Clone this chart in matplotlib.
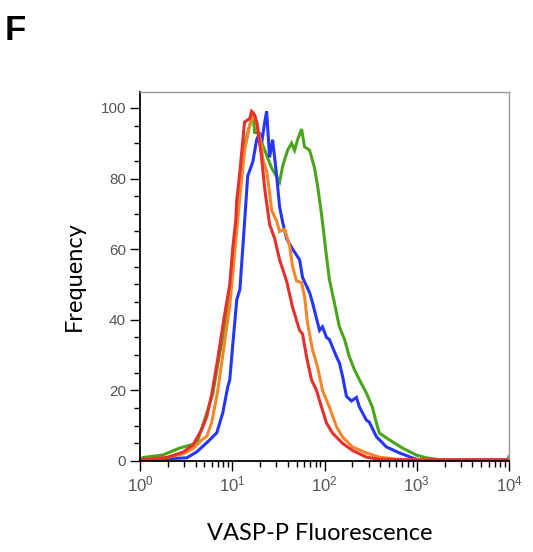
import matplotlib
matplotlib.use("Agg")
import matplotlib.pyplot as plt
from matplotlib.ticker import FixedLocator, LogLocator, NullFormatter

plt.rcParams["mathtext.fontset"] = "custom"
plt.rcParams["mathtext.rm"] = "Liberation Sans"
plt.rcParams["mathtext.it"] = "Liberation Sans"

# ---- data (fluorescence, frequency) ----
green_x = [1.0, 1.08, 1.77, 2.71, 4.13, 5.3, 6.15, 7.33, 8.09, 9.4, 10.9, 12.1, 13.6, 15.5, 16.7,
           17.5, 18.9, 22.5, 26.7, 32.6, 35.2, 39.8, 44.0, 47.4, 51.1, 56.4, 60.8, 68.9, 78.0,
           84.0, 92.8, 105, 113, 128, 145, 165, 186, 211, 239, 284, 330, 365, 393, 505, 697,
           988, 1267, 1750, 9800, 10000]
green_y = [0.5, 1, 1.7, 3.7, 5, 13.6, 19, 30.7, 36, 48, 65, 78, 90, 95, 99,
           93, 93, 88, 83, 79, 83.5, 88, 90, 88, 91, 94, 89, 88, 83,
           78, 70, 58, 51.4, 44.8, 38, 34.4, 29.5, 25.9, 23, 19.3, 15.3, 10.8, 7.9, 6, 3.7,
           1.7, 0.9, 0.4, 0.4, 1.2]

blue_x = [1.0, 3.22, 4.13, 5.71, 6.8, 7.89, 8.94, 9.4, 10.1, 11.2, 12.1, 13.6, 14.7, 16.7, 18.4,
          19.8, 20.8, 22.5, 23.6, 25.4, 27.4, 30.3, 32.6, 35.2, 38.8, 45.1, 53.7, 57.8, 68.9,
          74.2, 88.3, 95.1, 105, 113, 135, 145, 157, 173, 196, 222, 239, 284, 306, 365, 468,
          647, 894, 1065, 10000]
blue_y = [0.3, 0.9, 2.6, 6, 8, 13.6, 21, 23, 32.6, 45.7, 48.6, 67.6, 80.7, 84.7, 91,
          93, 90, 96, 99, 86, 91, 80.7, 72, 67.6, 63, 60, 57, 52, 47.7,
          44.8, 37, 38, 35, 34.4, 29.5, 27.8, 24, 18.3, 17, 18, 15.3, 11.6, 11, 6.9, 4,
          2.3, 0.9, 0.3, 0.3]

orange_x = [1.0, 1.96, 2.92, 3.74, 4.68, 5.3, 6.0, 6.97, 8.09, 9.4, 10.9, 12.1, 13.6, 15.5,
            16.7, 18.4, 20.8, 21.4, 23.6, 25.4, 26.7, 30.3, 32.6, 37.0, 41.8, 45.1, 49.8,
            56.4, 60.8, 65.5, 74.2, 84.0, 95.1, 113, 135, 157, 201, 284, 393, 600, 1000, 10000]
orange_y = [0.3, 1.0, 2.0, 3.5, 6, 7, 11, 20, 32, 44, 62, 75, 88, 95,
            98, 96, 89, 85.5, 82, 76, 71, 68, 65, 65.6, 61, 55, 51,
            50.5, 46.6, 39, 31.5, 26.7, 20, 15.3, 9.7, 6.8, 4, 2.3, 1.1, 0.5, 0.3, 0.3]

red_x = [1.0, 1.96, 2.92, 3.74, 4.68, 5.3, 6.0, 6.97, 8.09, 9.4, 10.1, 10.9, 11.2, 12.1, 13.6,
         15.5, 16.2, 17.5, 18.4, 20.8, 22.5, 25.4, 28.8, 32.6, 38.8, 45.1, 53.7, 57.8, 63.9,
         72.3, 81.9, 92.8, 105, 122, 157, 201, 284, 393, 1000, 10000]
red_y = [0.3, 1, 2.5, 4.5, 9, 12.6, 19, 29, 40, 50, 60, 68, 74, 82, 96,
         97, 99, 98, 96, 86, 77, 67, 63, 57, 51, 43.5, 37, 36, 29.5,
         23, 20, 15.3, 10.8, 7.9, 5, 3, 1.1, 0.5, 0.3, 0.3]

series = [
    (green_x, green_y, "#4aa51c"),
    (blue_x, blue_y, "#2436ff"),
    (orange_x, orange_y, "#f5862a"),
    (red_x, red_y, "#e8302a"),
]

y_ticks = [0, 20, 40, 60, 80, 100]
x_ticks = [1, 10, 100, 1000, 10000]
x_ticklabels = ["$10^{0}$", "$10^{1}$", "$10^{2}$", "$10^{3}$", "$10^{4}$"]

fig = plt.figure(figsize=(5.33, 5.52), dpi=100)
ax = fig.add_axes([140 / 533, 1 - 461 / 552, 369 / 533, 369 / 552])

for xs, ys, col in series:
    ax.plot(xs, ys, color=col, lw=2.2, solid_joinstyle="miter")

ax.set_xscale("log")
ax.set_xlim(1, 10000)
ax.set_ylim(0, 104.5)

ax.set_yticks(y_ticks)
ax.yaxis.set_minor_locator(FixedLocator(range(0, 105, 5)))
ax.set_xticks(x_ticks)
ax.set_xticklabels(x_ticklabels)
ax.xaxis.set_minor_locator(LogLocator(base=10, subs=range(2, 10)))
ax.xaxis.set_minor_formatter(NullFormatter())

ax.tick_params(axis="both", which="major", direction="out", length=7, width=1.0,
               colors="black", labelcolor="#555555", labelsize=11, pad=3)
ax.tick_params(axis="both", which="minor", direction="out", length=4, width=1.0, colors="black")
for lab in ax.get_xticklabels() + ax.get_yticklabels():
    lab.set_family("Liberation Sans")
for lab in ax.get_xticklabels():
    lab.set_fontsize(12)

for s in ["left", "bottom"]:
    ax.spines[s].set_color("black")
    ax.spines[s].set_linewidth(1.3)
for s in ["top", "right"]:
    ax.spines[s].set_color("#999999")
    ax.spines[s].set_linewidth(1.0)

ax.set_xlabel("VASP-P Fluorescence", fontsize=17, family="Lato", labelpad=20)
ax.xaxis.label.set_x(0.488)
ax.set_ylabel("Frequency", fontsize=17, family="Lato", labelpad=11)

fig.text(5 / 533, 1 - 40 / 552, "F", fontsize=25, fontweight="bold", family="Liberation Sans",
         ha="left", va="baseline")

fig.savefig("out.png", dpi=100)
